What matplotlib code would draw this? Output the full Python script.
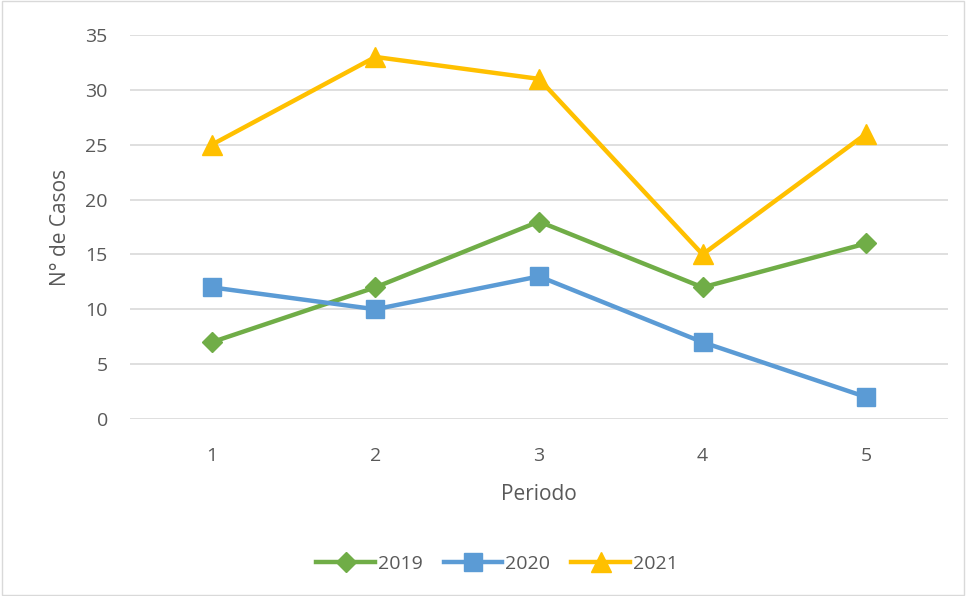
import numpy as np
import matplotlib
matplotlib.use("Agg")
import matplotlib.pyplot as plt
from matplotlib.patches import Rectangle

# datos
periodos = [1, 2, 3, 4, 5]
casos_2019 = [7, 12, 18, 12, 16]
casos_2020 = [12, 10, 13, 7, 2]
casos_2021 = [25, 33, 31, 15, 26]
yticks = [0, 5, 10, 15, 20, 25, 30, 35]

plt.rcParams['font.family'] = ['Open Sans', 'DejaVu Sans']
gris = '#595959'

fig = plt.figure(figsize=(9.66, 5.96), dpi=100)
ax = fig.add_axes([130/966, 177/596, 818/966, 384/596])

ax.plot(periodos, casos_2019, color='#70AD47', lw=3.2, marker='D', ms=10, label='2019')
ax.plot(periodos, casos_2020, color='#5B9BD5', lw=3.2, marker='s', ms=12.5, label='2020')
ax.plot(periodos, casos_2021, color='#FFC000', lw=3.2, marker='^', ms=14, label='2021')

ax.set_xlim(0.5, 5.5)
ax.set_ylim(0, 35)
ax.set_yticks(yticks)
ax.set_xticks(periodos)
ax.grid(axis='y', color='#D9D9D9', lw=1.2)
ax.set_axisbelow(True)
for s in ax.spines.values():
    s.set_visible(False)
ax.tick_params(length=0, labelsize=14, colors=gris)
ax.tick_params(axis='x', pad=20)
ax.tick_params(axis='y', pad=16)
ax.set_xlabel('Periodo', fontsize=15, color=gris, labelpad=14)
ax.set_ylabel('N° de Casos', fontsize=15, color=gris, labelpad=10)

fig.legend(*ax.get_legend_handles_labels(), loc='center',
           bbox_to_anchor=(497/966, 32/596), ncol=3,
           frameon=False, fontsize=14, labelcolor=gris, handlelength=3.0,
           handletextpad=0.15, columnspacing=1.1)

# borde del area del grafico
fig.patches.append(Rectangle((0.002, 0.002), 0.996, 0.996, transform=fig.transFigure,
                             fill=False, edgecolor='#D9D9D9', lw=1))

fig.savefig('out.png', dpi=100, facecolor='white')
